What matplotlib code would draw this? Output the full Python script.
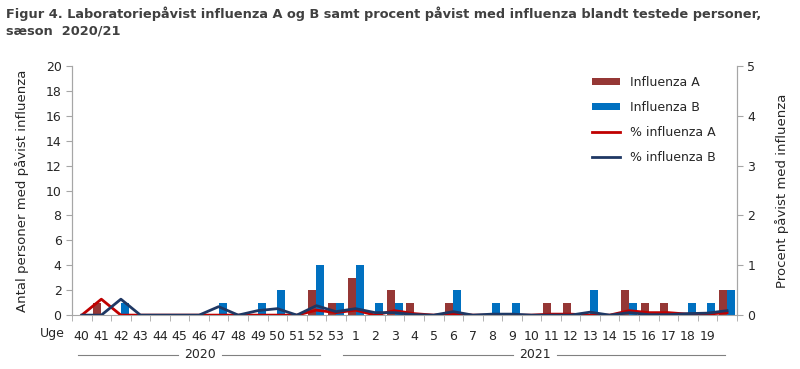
import numpy as np
import matplotlib
matplotlib.use('Agg')
import matplotlib.pyplot as plt

plt.rcParams['font.family'] = ['DejaVu Sans']

# weeks 40-53 (2020) and 1-20 (2021); the last week has no label in the original
weeks = ['40', '41', '42', '43', '44', '45', '46', '47', '48', '49', '50', '51', '52', '53',
         '1', '2', '3', '4', '5', '6', '7', '8', '9', '10', '11', '12', '13', '14', '15',
         '16', '17', '18', '19', '']

influenza_a = [0, 1, 0, 0, 0, 0, 0, 0, 0, 0, 0, 0, 2, 1,
               3, 0, 2, 1, 0, 1, 0, 0, 0, 0, 1, 1, 0, 0, 2, 1, 1, 0, 0, 2]
influenza_b = [0, 0, 1, 0, 0, 0, 0, 1, 0, 1, 2, 0, 4, 1,
               4, 1, 1, 0, 0, 2, 0, 1, 1, 0, 0, 0, 2, 0, 1, 0, 0, 1, 1, 2]

pct_a = [0, 0.32, 0, 0, 0, 0, 0, 0, 0, 0, 0, 0, 0.10, 0.05,
         0.10, 0, 0.09, 0.03, 0, 0.03, 0, 0, 0, 0, 0.02, 0.02, 0, 0, 0.09, 0.05, 0.05, 0.02, 0.02, 0.05]
pct_b = [0, 0, 0.32, 0, 0, 0, 0, 0.17, 0, 0.09, 0.13, 0, 0.19, 0.07,
         0.13, 0.05, 0.05, 0.01, 0, 0.07, 0, 0.02, 0.02, 0, 0, 0, 0.06, 0, 0.05, 0.01, 0.01, 0.03, 0.04, 0.09]

col_a = '#953735'
col_b = '#0070C0'
col_pa = '#C00000'
col_pb = '#1F3864'
grey = '#A6A6A6'
txt = '#262626'

x = np.arange(len(weeks))
w = 0.41

fig = plt.figure(figsize=(8, 3.69), dpi=100)
ax = fig.add_axes([0.09, 0.146, 0.831, 0.675])
ax2 = ax.twinx()

ax.bar(x - w / 2, influenza_a, w, color=col_a, label='Influenza A', zorder=2)
ax.bar(x + w / 2, influenza_b, w, color=col_b, label='Influenza B', zorder=2)
ax2.plot(x, pct_a, color=col_pa, lw=2, label='% influenza A')
ax2.plot(x, pct_b, color=col_pb, lw=2, label='% influenza B')

ax.set_xlim(-0.5, len(weeks) - 0.5)
ax.set_ylim(0, 20)
ax.set_yticks(range(0, 21, 2))
ax2.set_ylim(0, 5)
ax2.set_yticks(range(0, 6))

ax.set_xticks(x)
ax.set_xticklabels(weeks)
ax.set_xticks(np.arange(-0.5, len(weeks), 1), minor=True)
ax.tick_params(axis='x', which='major', length=0, pad=11, labelsize=9, colors=txt)
ax.tick_params(axis='x', which='minor', length=4, color=grey)
ax.tick_params(axis='y', length=4, color=grey, labelsize=9, labelcolor=txt)
ax2.tick_params(axis='y', length=4, color=grey, labelsize=9, labelcolor=txt)

for a in (ax, ax2):
    a.spines['top'].set_visible(False)
    for s in ('left', 'right', 'bottom'):
        a.spines[s].set_color(grey)
ax2.spines['bottom'].set_visible(False)

ax.set_ylabel('Antal personer med påvist influenza', fontsize=9.5, color=txt, labelpad=12)
ax2.set_ylabel('Procent påvist med influenza', fontsize=9.5, color=txt, labelpad=14)

# "Uge" label and year brackets below the axis
fig.text(40 / 800, 1 - 333 / 369, 'Uge', fontsize=9, color=txt, ha='left', va='center')
for yr, x0, x1, xc in [('2020', 78, 320, 200), ('2021', 343, 725, 535)]:
    yy = 1 - 355 / 369
    fig.text(xc / 800, yy, yr, fontsize=9, color=txt, ha='center', va='center')
    fig.add_artist(plt.Line2D([x0 / 800, (xc - 22) / 800], [yy, yy], color='#808080', lw=0.8))
    fig.add_artist(plt.Line2D([(xc + 22) / 800, x1 / 800], [yy, yy], color='#808080', lw=0.8))

h1, l1 = ax.get_legend_handles_labels()
h2, l2 = ax2.get_legend_handles_labels()
ax2.legend(h1 + h2, l1 + l2, loc='upper left', bbox_to_anchor=(0.775, 0.98), frameon=False,
           fontsize=9, handlelength=2.2, handleheight=0.5, labelspacing=0.95, labelcolor=txt,
           borderaxespad=0)

fig.text(6 / 800, 1 - 6 / 369,
         'Figur 4. Laboratoriepåvist influenza A og B samt procent påvist med influenza blandt testede personer,\nsæson  2020/21',
         fontsize=9.3, fontweight='bold', color='#404040', ha='left', va='top', linespacing=1.4)

fig.savefig('out.png', dpi=100)
